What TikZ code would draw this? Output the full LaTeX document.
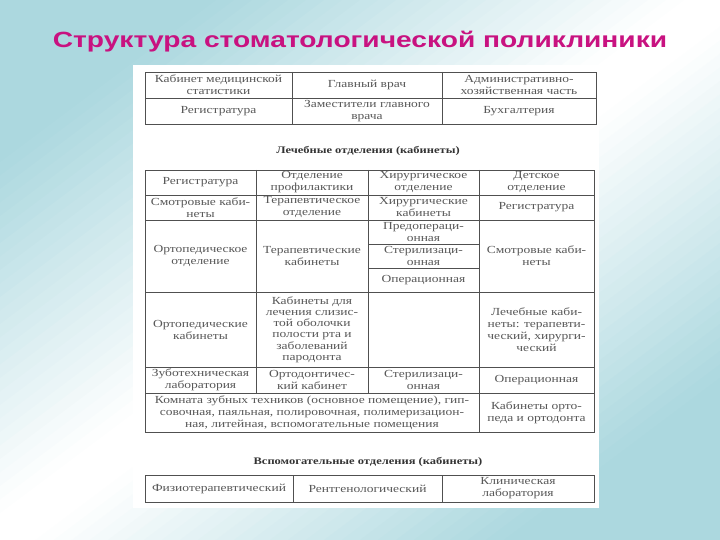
\documentclass[tikz,border=0pt]{standalone}
\usepackage{fontspec}
\setmainfont{Liberation Serif}[FakeStretch=1.25]
\newfontfamily\titlefont{Liberation Sans}[FakeStretch=1.28]
\definecolor{bgteal}{RGB}{172,216,223}
\definecolor{titlemag}{RGB}{200,18,128}
\definecolor{ink}{RGB}{88,88,88}
\definecolor{rulec}{RGB}{80,80,80}
\tikzset{
  cell/.style={font=\fontsize{10.8}{12}\selectfont, text=ink, align=center, inner sep=0pt},
  head/.style={font=\bfseries\fontsize{10}{12}\selectfont, text=black!80, inner sep=0pt},
  grid/.style={draw=rulec, line width=0.85pt},
}
\begin{document}
\begin{tikzpicture}[x=1pt,y=-1pt]
\useasboundingbox (0,0) rectangle (720,540);
% background: teal in the top-left and bottom-right corners, white along the other diagonal
\begin{scope}
\clip (0,0) rectangle (720,540);
\foreach \i in {0,...,79}{
  \pgfmathsetmacro{\ca}{\i/40}
  \pgfmathsetmacro{\cb}{(\i+1)/40+0.002}
  \pgfmathsetmacro{\cm}{(\i+0.5)/40}
  \pgfmathsetmacro{\pct}{min(100,max(0,100*(abs(\cm-1)-0.05)/0.65))}
  \colorlet{stripc}{bgteal!\pct!white}
  \fill[stripc] (720*\ca,0) -- (720*\cb,0) -- (0,540*\cb) -- (0,540*\ca) -- cycle;
}
\end{scope}
\fill[white] (133,65) rectangle (599,508);
% title
\node[font=\titlefont\bfseries\fontsize{22}{24}\selectfont, text=titlemag, inner sep=0pt, anchor=base] (title) at (360,48) {Структура стоматологической поликлиники};

% ---------- top table ----------
\draw[grid] (145,72) rectangle (596,124);
\draw[grid] (145,98) -- (596,98);
\draw[grid] (292,72) -- (292,124);
\draw[grid] (442,72) -- (442,124);
\node[cell] (t11) at (218.5,85) {Кабинет медицинской\\статистики};
\node[cell] (t12) at (367,85) {Главный врач};
\node[cell] (t13) at (519,85) {Административно-\\хозяйственная часть};
\node[cell] (t21) at (218.5,111) {Регистратура};
\node[cell] (t22) at (367,111) {Заместители главного\\врача};
\node[cell] (t23) at (519,111) {Бухгалтерия};

\node[head] (h1) at (368,151) {Лечебные отделения (кабинеты)};

% ---------- middle table ----------
\draw[grid] (145,170) rectangle (594,432);
\foreach \yy in {195,220,292,367,393} \draw[grid] (145,\yy) -- (594,\yy);
\draw[grid] (368,244) -- (479,244);
\draw[grid] (368,268) -- (479,268);
\draw[grid] (256,170) -- (256,393);
\draw[grid] (368,170) -- (368,393);
\draw[grid] (479,170) -- (479,432);

\node[cell] (m11) at (200.5,182.5) {Регистратура};
\node[cell] (m12) at (312,182.5) {Отделение\\профилактики};
\node[cell] (m13) at (423.5,182.5) {Хирургическое\\отделение};
\node[cell] (m14) at (536.5,182.5) {Детское\\отделение};

\node[cell] (m21) at (200.5,207.5) {Смотровые каби-\\неты};
\node[cell] (m22) at (312,207.5) {Терапевтическое\\отделение};
\node[cell] (m23) at (423.5,207.5) {Хирургические\\кабинеты};
\node[cell] (m24) at (536.5,207.5) {Регистратура};

\node[cell] (m31) at (200.5,256) {Ортопедическое\\отделение};
\node[cell] (m32) at (312,256) {Терапевтические\\кабинеты};
\node[cell] (m33a) at (423.5,232) {Предопераци-\\онная};
\node[cell] (m33b) at (423.5,256) {Стерилизаци-\\онная};
\node[cell] (m33c) at (423.5,280) {Операционная};
\node[cell] (m34) at (536.5,256) {Смотровые каби-\\неты};

\node[cell] (m41) at (200.5,329.5) {Ортопедические\\кабинеты};
\node[cell, font=\fontsize{10.8}{11.2}\selectfont] (m42) at (312,329.5) {Кабинеты для\\лечения слизис-\\той оболочки\\полости рта и\\заболеваний\\пародонта};
\node[cell] (m44) at (536.5,329.5) {Лечебные каби-\\неты: терапевти-\\ческий, хирурги-\\ческий};

\node[cell] (m51) at (200.5,380) {Зуботехническая\\лаборатория};
\node[cell] (m52) at (312,380) {Ортодонтичес-\\кий кабинет};
\node[cell] (m53) at (423.5,380) {Стерилизаци-\\онная};
\node[cell] (m54) at (536.5,380) {Операционная};

\node[cell] (m61) at (312,412.5) {Комната зубных техников (основное помещение), гип-\\совочная, паяльная, полировочная, полимеризацион-\\ная, литейная, вспомогательные помещения};
\node[cell] (m64) at (536.5,412.5) {Кабинеты орто-\\педа и ортодонта};

\node[head] (h2) at (368,462) {Вспомогательные отделения (кабинеты)};

% ---------- bottom table ----------
\draw[grid] (145,475) rectangle (594,502);
\draw[grid] (293,475) -- (293,502);
\draw[grid] (442,475) -- (442,502);
\node[cell] (b1) at (219,488.5) {Физиотерапевтический};
\node[cell] (b2) at (367.5,488.5) {Рентгенологический};
\node[cell] (b3) at (518,488.5) {Клиническая\\лаборатория};
\end{tikzpicture}
\end{document}
